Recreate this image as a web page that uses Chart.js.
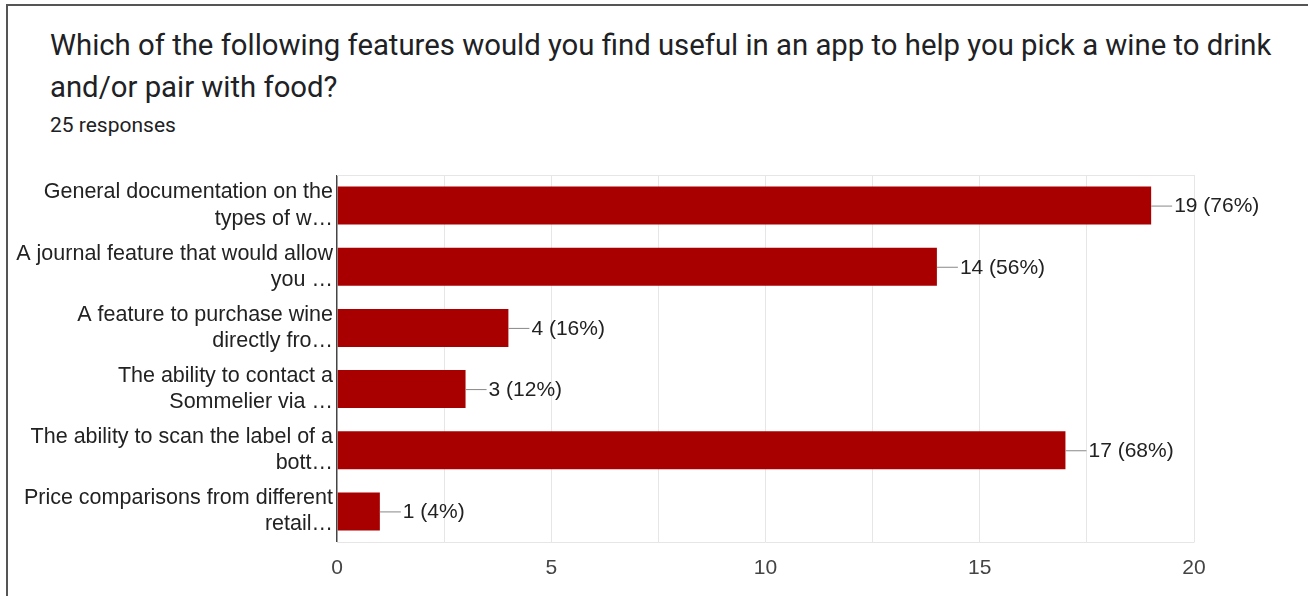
<!DOCTYPE html>
<html>
<head>
<meta charset="utf-8">
<script src="https://cdn.jsdelivr.net/npm/chart.js@4"></script>
<style>
  html, body { margin: 0; padding: 0; background: #fff; }
  body { width: 1308px; height: 596px; position: relative; overflow: hidden; }
  #frame {
    position: absolute; left: 6px; top: 4px; width: 1400px; height: 700px;
    border-top: 2px solid #555; border-left: 2px solid #555;
  }
  #title {
    position: absolute; left: 50px; top: 24px;
    font-family: Roboto, sans-serif; font-size: 29.3px; line-height: 42px;
    color: #202124;
  }
  #sub {
    position: absolute; left: 50px; top: 113px;
    font-family: Roboto, sans-serif; font-size: 21px; color: #202124;
  }
  #wrap { position: absolute; left: 0; top: 0; width: 1308px; height: 596px; }
</style>
</head>
<body>
<div id="frame"></div>
<div id="title">Which of the following features would you find useful in an app to help you pick a wine to drink<br>and/or pair with food?</div>
<div id="sub">25 responses</div>
<div id="wrap"><canvas id="bar-chart"></canvas></div>
<script>
const responses = 25

const labels = [
    ['General documentation on the', 'types of w…'],
    ['A journal feature that would allow', 'you …'],
    ['A feature to purchase wine', 'directly fro…'],
    ['The ability to contact a', 'Sommelier via …'],
    ['The ability to scan the label of a', 'bott…'],
    ['Price comparisons from different', 'retail…'],
]
const counts = [19, 14, 4, 3, 17, 1]
const xTicks = [0, 5, 10, 15, 20]

const fontFamily = '"Liberation Sans", Arial, sans-serif'

// count + percent label with a short leader line after each bar
const valueLabels = {
    id: 'valueLabels',
    afterDatasetsDraw(chart) {
        const ctx = chart.ctx
        const meta = chart.getDatasetMeta(0)
        ctx.save()
        ctx.font = '21px ' + fontFamily
        ctx.textBaseline = 'middle'
        ctx.textAlign = 'left'
        meta.data.forEach((bar, i) => {
            const v = counts[i]
            ctx.strokeStyle = '#888'
            ctx.lineWidth = 1
            ctx.beginPath()
            ctx.moveTo(bar.x, bar.y + 0.5)
            ctx.lineTo(bar.x + 21, bar.y + 0.5)
            ctx.stroke()
            ctx.fillStyle = '#222'
            ctx.fillText(v + ' (' + Math.round(v / responses * 100) + '%)', bar.x + 23, bar.y + 1)
        })
        ctx.restore()
    }
}

// light line along the top of the plot area
const topLine = {
    id: 'topLine',
    beforeDatasetsDraw(chart) {
        const a = chart.chartArea
        const ctx = chart.ctx
        ctx.save()
        ctx.strokeStyle = '#e6e6e6'
        ctx.lineWidth = 1
        ctx.beginPath()
        ctx.moveTo(a.left, a.top + 0.5)
        ctx.lineTo(a.right, a.top + 0.5)
        ctx.stroke()
        ctx.restore()
    }
}

const data = {
    labels: labels,
    datasets: [{
        data: counts,
        backgroundColor: '#a80000',
        borderWidth: 0,
        barPercentage: 0.62,
        categoryPercentage: 1
    }]
}

const config = {
    type: 'bar',
    data: data,
    options: {
        indexAxis: 'y',
        responsive: true,
        maintainAspectRatio: false,
        animation: false,
        layout: {
            padding: { left: 0, right: 114, top: 175, bottom: 0 }
        },
        plugins: {
            legend: { display: false },
            tooltip: { enabled: false }
        },
        scales: {
            x: {
                min: 0,
                max: 20,
                afterFit: s => { s.height = 54 },
                border: { display: true, color: '#e6e6e6' },
                grid: {
                    drawTicks: false,
                    color: c => c.tick && c.tick.value === 0 ? '#444' : '#e6e6e6',
                    lineWidth: c => c.tick && c.tick.value === 0 ? 1.5 : 1
                },
                ticks: {
                    stepSize: 2.5,
                    padding: 14,
                    color: '#444',
                    font: { family: fontFamily, size: 21 },
                    callback: v => xTicks.includes(v) ? v : ''
                }
            },
            y: {
                afterFit: s => { s.width = 337 },
                border: { display: false },
                grid: { display: false, drawTicks: false },
                ticks: {
                    padding: 4,
                    color: '#222',
                    font: { family: fontFamily, size: 21.5, lineHeight: 1.22 }
                }
            }
        }
    },
    plugins: [topLine, valueLabels]
}

const myChart = new Chart(document.getElementById('bar-chart'), config)
</script>
</body>
</html>
